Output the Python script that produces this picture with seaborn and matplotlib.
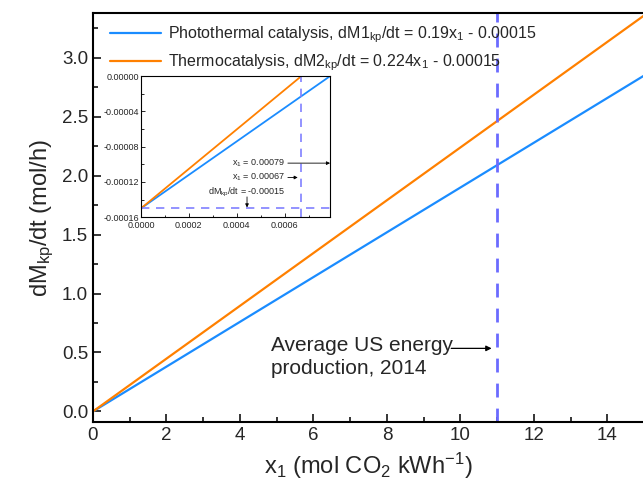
import matplotlib
matplotlib.use("Agg")
import matplotlib.pyplot as plt
import seaborn as sns
import pandas as pd
import numpy as np
from matplotlib.ticker import MultipleLocator

# ---- data ----
series_names = ["Photothermal catalysis, dM1$_{\\mathrm{kp}}$/dt = 0.19x$_{\\mathrm{1}}$ - 0.00015",
                "Thermocatalysis, dM2$_{\\mathrm{kp}}$/dt = 0.224x$_{\\mathrm{1}}$ - 0.00015"]
x_main = [0.0, 15.0]
y_photo_main = [-0.00015, 2.84985]
y_thermo_main = [-0.00015, 3.35985]
x_inset_photo = [0.0, 0.00079]
y_inset_photo = [-0.00015, 0.0]
x_inset_thermo = [0.0, 0.00067]
y_inset_thermo = [-0.00015, 0.0]
us_energy_x = 11.0
x0_photo = 0.00079
x0_thermo = 0.00067
intercept = -0.00015
colors = ["#1a8cff", "#ff8000"]

sns.set_theme(style="ticks")
plt.rcParams['font.family'] = ['Liberation Sans', 'DejaVu Sans']
plt.rcParams['mathtext.fontset'] = 'custom'
plt.rcParams['mathtext.rm'] = 'Liberation Sans'
plt.rcParams['mathtext.it'] = 'Liberation Sans'

df_main = pd.DataFrame({
    "x": x_main + x_main,
    "y": y_photo_main + y_thermo_main,
    "series": [series_names[0]] * 2 + [series_names[1]] * 2,
})
df_in = pd.DataFrame({
    "x": x_inset_photo + x_inset_thermo,
    "y": y_inset_photo + y_inset_thermo,
    "series": [series_names[0]] * 2 + [series_names[1]] * 2,
})

fig = plt.figure(figsize=(6.43, 4.88), dpi=100)
ax = fig.add_axes([0.1446, 0.1352, 0.856, 0.838])
sns.lineplot(data=df_main, x="x", y="y", hue="series", palette=colors, ax=ax, linewidth=1.6)
ax.axvline(us_energy_x, color="#6b6bff", linestyle=(0, (5, 4)), linewidth=2)
ax.set_xlim(0, 14.98)
ax.set_ylim(-0.09, 3.38)
ax.xaxis.set_major_locator(MultipleLocator(2))
ax.xaxis.set_minor_locator(MultipleLocator(1))
ax.yaxis.set_major_locator(MultipleLocator(0.5))
ax.yaxis.set_minor_locator(MultipleLocator(0.25))
ax.tick_params(which="both", direction="in", labelsize=13.5, width=1.3)
ax.tick_params(which="major", length=6)
ax.tick_params(which="minor", length=3.5)
ax.yaxis.set_major_formatter(matplotlib.ticker.FormatStrFormatter('%.1f'))
for s in ax.spines.values():
    s.set_linewidth(1.5)
    s.set_color("black")
ax.spines['right'].set_visible(False)
ax.set_xlabel("x$_{\\mathrm{1}}$ (mol CO$_{\\mathrm{2}}$ kWh$^{\\mathrm{-1}}$)", fontsize=17, labelpad=5)
ax.set_ylabel("dM$_{\\mathrm{kp}}$/dt (mol/h)", fontsize=17, labelpad=4)
leg = ax.legend(loc="upper left", frameon=False, fontsize=11.5, handlelength=3.2,
                handletextpad=0.45, bbox_to_anchor=(0.01, 1.0), labelspacing=0.5,
                borderaxespad=0.3)
ax.text(4.85, 0.64, "Average US energy\nproduction, 2014", fontsize=15, ha="left",
        va="top", linespacing=1.25)
ax.annotate("", xy=(10.85, 0.535), xytext=(9.75, 0.535),
            arrowprops=dict(arrowstyle="-|>", color="black", lw=0.9, shrinkA=0, shrinkB=0,
                            mutation_scale=8))

# ---- inset ----
axin = fig.add_axes([0.2193, 0.555, 0.294, 0.289])
sns.lineplot(data=df_in, x="x", y="y", hue="series", palette=colors, ax=axin, linewidth=1.3, legend=False)
axin.axvline(x0_thermo, color="#8080ff", linestyle=(0, (5, 4)), linewidth=1.2)
axin.axhline(intercept, color="#8080ff", linestyle=(0, (5, 4)), linewidth=1.2)
axin.set_xlim(0, x0_photo)
axin.set_ylim(-0.00016, 0.0)
axin.xaxis.set_major_locator(MultipleLocator(0.0002))
axin.xaxis.set_minor_locator(MultipleLocator(0.0001))
axin.yaxis.set_major_locator(MultipleLocator(0.00004))
axin.yaxis.set_minor_locator(MultipleLocator(0.00002))
axin.xaxis.set_major_formatter(matplotlib.ticker.FormatStrFormatter('%.4f'))
axin.yaxis.set_major_formatter(matplotlib.ticker.FuncFormatter(lambda v, p: "%.5f" % v if abs(v) > 1e-12 else "0.00000"))
axin.tick_params(which="both", direction="in", labelsize=6.5, width=0.7)
axin.tick_params(axis="x", pad=3)
axin.tick_params(axis="y", pad=1.5)
axin.tick_params(which="major", length=3)
axin.tick_params(which="minor", length=1.8)
axin.set_xlabel("")
axin.set_ylabel("")
for s in axin.spines.values():
    s.set_linewidth(0.8)
    s.set_color("black")

txt_x = 0.000600
arrow = dict(arrowstyle="-|>", color="black", lw=0.6, shrinkA=0, shrinkB=0, mutation_scale=5)
axin.annotate("x$_{\\mathrm{1}}$ = 0.00079", xy=(x0_photo, -0.0000987), xytext=(txt_x, -0.0000987),
              fontsize=6.5, ha="right", va="center", arrowprops=dict(arrow, relpos=(1.0, 0.5)))
axin.annotate("x$_{\\mathrm{1}}$ = 0.00067", xy=(0.000655, -0.000115), xytext=(txt_x, -0.000115),
              fontsize=6.5, ha="right", va="center", arrowprops=dict(arrow, relpos=(1.0, 0.5)))
axin.annotate("dM$_{\\mathrm{kp}}$/dt = -0.00015", xy=(0.000443, -0.000149), xytext=(txt_x, -0.000132),
              fontsize=6.5, ha="right", va="center")
axin.annotate("", xy=(0.000443, -0.000149), xytext=(0.000443, -0.000137), arrowprops=arrow)

fig.savefig("out.png", dpi=100)
